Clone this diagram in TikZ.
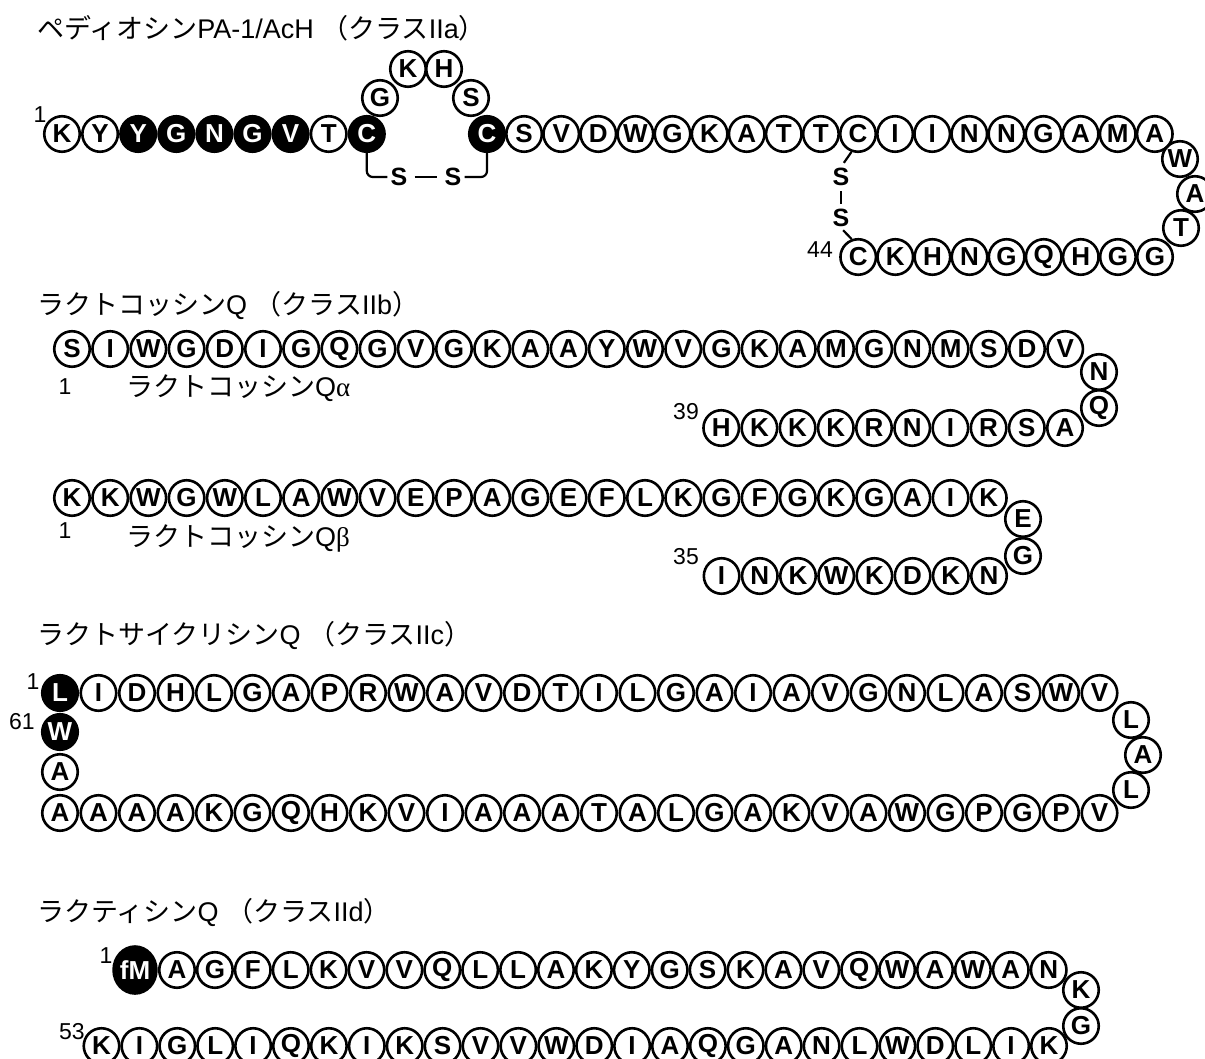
\documentclass[tikz,border=0pt]{standalone}
\usepackage{fontspec}
\setmainfont{Liberation Sans}
\newfontfamily\jpfont{Noto Sans CJK JP}
\newfontfamily\grfont{Liberation Serif}
\newcommand{\jp}[1]{{\jpfont #1}}
\usetikzlibrary{positioning, shapes.geometric}
\tikzset{
    aa/.style={draw, circle, minimum size=35.5pt, inner sep=0pt, line width=2.6pt, font=\fontsize{26}{26}\selectfont\bfseries},
    aadark/.style={aa, fill=black, text=white},
    fmres/.style={draw, ellipse, minimum width=42pt, minimum height=47pt, inner sep=0pt, line width=2.6pt, fill=black, text=white, font=\fontsize{26}{26}\selectfont\bfseries},
    ttl/.style={anchor=west, inner sep=0pt, font=\fontsize{27}{30}\selectfont},
    sublabel/.style={anchor=west, inner sep=0pt, font=\fontsize{27}{30}\selectfont},
    resnum/.style={inner sep=0pt, font=\fontsize{23}{23}\selectfont},
    sulfur/.style={inner sep=1pt, font=\fontsize{25}{25}\selectfont\bfseries},
    bond/.style={line width=2.2pt}
}
\begin{document}
\begin{tikzpicture}[x=1pt, y=-1pt]
\useasboundingbox (0,0) rectangle (1205,1059);

% ペディオシンPA-1/AcH
\node[ttl] (t1) at (37,28) {\jp{ペディオシン}PA-1/AcH \jp{（クラス}IIa\jp{）}};
\foreach \r/\s [count=\i] in {K/aa, Y/aa, Y/aadark, G/aadark, N/aadark, G/aadark, V/aadark, T/aa, C/aadark}
    \node[\s] (p\i) at ({62+38.1*(\i-1)},134) {\r};
\node[aa] (p10) at (380,98) {G};
\node[aa] (p11) at (408,69) {K};
\node[aa] (p12) at (444,69) {H};
\node[aa] (p13) at (471,98) {S};
\node[aadark] (p14) at (487,134) {C};
\foreach \r [count=\i from 15] in {S,V,D,W,G,K,A,T,T,C,I,I,N,N,G,A,M,A}
    \node[aa] (p\i) at ({487+37.1*(\i-14)},134) {\r};
\node[aa] (p33) at (1180,159) {W};
\node[aa] (p34) at (1195,194) {A};
\node[aa] (p35) at (1181,228) {T};
\foreach \r [count=\i from 36] in {G,G,H,Q,G,N,H,K,C}
    \node[aa] (p\i) at ({1155-37.1*(\i-36)},257) {\r};
\node[resnum] (n1) at (40,115) {1};
\node[resnum] (n44) at (820,250) {44};

% ジスルフィド結合
\node[sulfur] (sa) at (399,177) {S};
\node[sulfur] (sb) at (453,177) {S};
\draw[bond, rounded corners=6pt, shorten >=2pt] (p9.south) |- (sa.west);
\draw[bond, rounded corners=6pt, shorten <=2pt] (sb.east) -| (p14.south);
\draw[bond, shorten <=6pt, shorten >=6pt] (sa.east) -- (sb.west);
\node[sulfur] (sc) at (841,177) {S};
\node[sulfur] (sd) at (841,218) {S};
\draw[bond, shorten >=5pt] (p24.-110) -- (sc.north);
\draw[bond, shorten <=4pt, shorten >=4pt] (sc.south) -- (sd.north);
\draw[bond, shorten <=3pt] (sd.south) -- (p44.110);

% ラクトコッシンQ
\node[ttl] (t2) at (37,305) {\jp{ラクトコッシン}Q \jp{（クラス}IIb\jp{）}};
\foreach \r [count=\i] in {S,I,W,G,D,I,G,Q,G,V,G,K,A,A,Y,W,V,G,K,A,M,G,N,M,S,D,V}
    \node[aa] (a\i) at ({72+38.2*(\i-1)},349) {\r};
\node[aa] (a28) at (1099,372) {N};
\node[aa] (a29) at (1099,408) {Q};
\foreach \r [count=\i from 30] in {A,S,R,I,N,R,K,K,K,H}
    \node[aa] (a\i) at ({1065-38.2*(\i-30)},428) {\r};
\node[resnum] (na1) at (65,387) {1};
\node[resnum] (na39) at (686,412) {39};
\node[sublabel] (la) at (126,388) {\jp{ラクトコッシン}Q{\grfont α}};

\foreach \r [count=\i] in {K,K,W,G,W,L,A,W,V,E,P,A,G,E,F,L,K,G,F,G,K,G,A,I,K}
    \node[aa] (b\i) at ({72+38.2*(\i-1)},498) {\r};
\node[aa] (b26) at (1023,519) {E};
\node[aa] (b27) at (1023,556) {G};
\foreach \r [count=\i from 28] in {N,K,D,K,W,K,N,I}
    \node[aa] (b\i) at ({989-38.2*(\i-28)},576) {\r};
\node[resnum] (nb1) at (65,531) {1};
\node[resnum] (nb35) at (686,557) {35};
\node[sublabel] (lb) at (126,538) {\jp{ラクトコッシン}Q{\grfont β}};

% ラクトサイクリシンQ
\node[ttl] (t3) at (37,635) {\jp{ラクトサイクリシン}Q \jp{（クラス}IIc\jp{）}};
\node[aadark] (c1) at (60,693) {L};
\foreach \r [count=\i from 2] in {I,D,H,L,G,A,P,R,W,A,V,D,T,I,L,G,A,I,A,V,G,N,L,A,S,W,V}
    \node[aa] (c\i) at ({60+38.5*(\i-1)},693) {\r};
\node[aa] (c29) at (1131,720) {L};
\node[aa] (c30) at (1143,755) {A};
\node[aa] (c31) at (1131,790) {L};
\foreach \r [count=\i from 32] in {V,P,G,P,G,W,A,V,K,A,G,L,A,T,A,A,A,I,V,K,H,Q,G,K,A,A,A,A}
    \node[aa] (c\i) at ({1099.5-38.5*(\i-32)},813) {\r};
\node[aa] (c60) at (60,772) {A};
\node[aadark] (c61) at (60,732) {W};
\node[resnum] (nc1) at (33,682) {1};
\node[resnum] (nc61) at (22,722) {61};

% ラクティシンQ
\node[ttl] (t4) at (37,912) {\jp{ラクティシン}Q \jp{（クラス}IId\jp{）}};
\node[fmres] (d1) at (135,970) {fM};
\foreach \r [count=\i from 2] in {A,G,F,L,K,V,V,Q,L,L,A,K,Y,G,S,K,A,V,Q,W,A,W,A,N}
    \node[aa] (d\i) at ({177+37.9*(\i-2)},970) {\r};
\node[aa] (d26) at (1081,990) {K};
\node[aa] (d27) at (1081,1026) {G};
\foreach \r [count=\i from 28] in {K,I,L,D,W,L,N,A,G,Q,A,I,D,W,V,V,S,K,I,K,Q,I,L,G,I,K}
    \node[aa] (d\i) at ({1049-37.9*(\i-28)},1046) {\r};
\node[resnum] (nd1) at (106,956) {1};
\node[resnum] (nd53) at (72,1032) {53};

\end{tikzpicture}
\end{document}
